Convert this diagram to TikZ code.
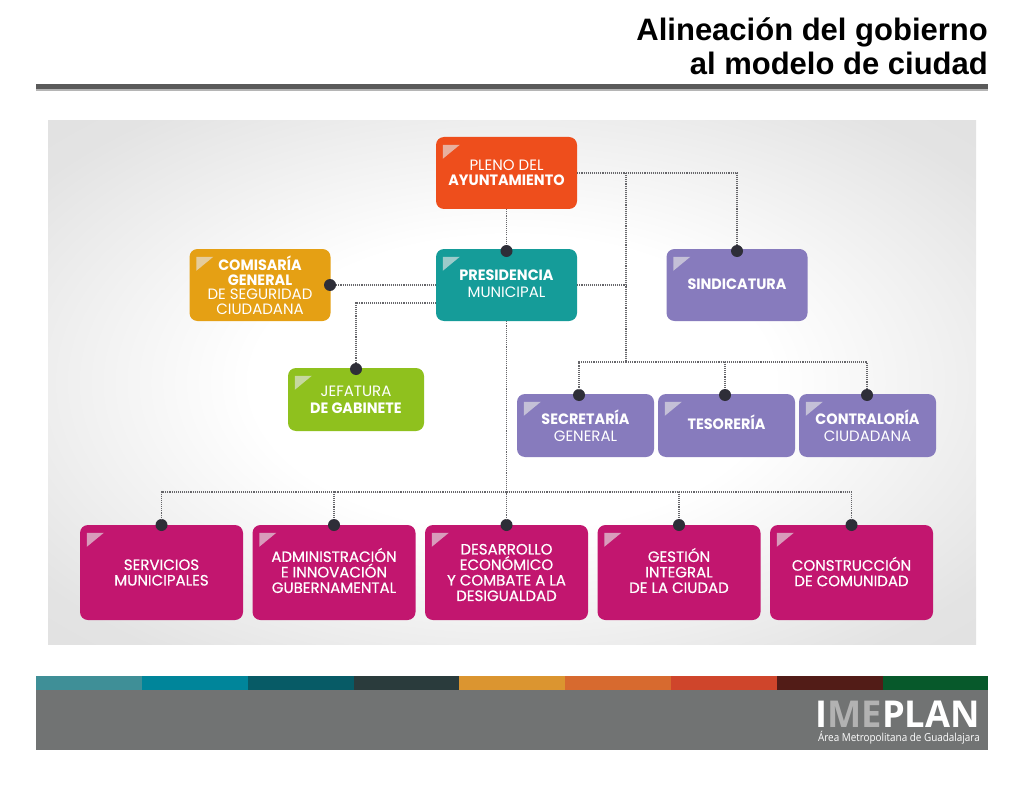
\documentclass[tikz,border=0pt]{standalone}
\usepackage{fontspec}
\setmainfont{Liberation Sans}
\newfontfamily\boxfont[BoldFeatures={FakeStretch=0.96}]{Poppins}
\newfontfamily\lowfont[FakeBold=0.5]{Poppins}
\newfontfamily\logofont[FakeStretch=0.98]{Open Sans}
\newfontfamily\logosubfont[FakeStretch=0.9]{Open Sans}
\definecolor{imRule}{HTML}{5A5A5A}
\definecolor{imBand}{HTML}{717373}
\definecolor{imOrange}{HTML}{EE4E1C}
\definecolor{imTeal}{HTML}{159C99}
\definecolor{imAmber}{HTML}{E5A014}
\definecolor{imLilac}{HTML}{877BBD}
\definecolor{imGreen}{HTML}{8FC11E}
\definecolor{imPink}{HTML}{C2166F}
\definecolor{imDot}{HTML}{2E2E38}
\definecolor{imLine}{HTML}{66666A}
\usetikzlibrary{calc,positioning}
\pgfdeclareradialshading{panelglow}{\pgfpointorigin}{color(0bp)=(white); color(14bp)=(white); color(32bp)=(black!11); color(50bp)=(black!13)}
\newcommand{\liftup}[1]{\rule[-#1pt]{0pt}{0pt}}

\begin{document}
\begin{tikzpicture}[x=1pt,y=-1pt,
  orgbox/.style={rounded corners=8pt, text=white, inner sep=0pt, align=center, font=\boxfont\fontsize{15}{15.5}\selectfont},
  topbox/.style={orgbox, minimum width=141pt, minimum height=72pt},
  jefbox/.style={orgbox, minimum width=136pt, minimum height=63pt},
  secbox/.style={orgbox, minimum width=137pt, minimum height=63pt},
  lowbox/.style={orgbox, fill=imPink, minimum width=163pt, minimum height=95pt, font=\lowfont\fontsize{15}{15.5}\selectfont},
  dot/.style={circle, fill=imDot, inner sep=0pt, minimum size=12pt},
  link/.style={densely dotted, line width=1.1pt, color=imLine},
  stripe/.style={minimum width=105.8pt, minimum height=14pt, inner sep=0pt, anchor=west}
]
  \useasboundingbox (0,0) rectangle (1024,786);

  \node[anchor=north east, align=right, font=\bfseries\fontsize{31}{34}\selectfont, inner sep=0pt] (title) at (988,18) {Alineación del gobierno\\al modelo de ciudad};
  \fill[color=imRule!45] (36,87) rectangle (988,91);
  \fill[color=imRule] (36,84) rectangle (988,89);

  \shade[shading=panelglow] (48,121) rectangle (976,644);

  \node[topbox, fill=imOrange] (pleno) at (506.5,173) {PLENO DEL\\\textbf{AYUNTAMIENTO}};
  \node[topbox, fill=imTeal] (presidencia) at (506.5,285) {\textbf{PRESIDENCIA}\\[1.5pt]MUNICIPAL\liftup{2}};
  \node[topbox, fill=imAmber] (comisaria) at (260,285) {\textbf{COMISARÍA}\\[-1pt]\textbf{GENERAL}\\[-1pt]DE SEGURIDAD\\[-1pt]CIUDADANA};
  \node[topbox, fill=imLilac] (sindicatura) at (737,285) {\textbf{SINDICATURA}\liftup{2}};
  \node[jefbox, fill=imGreen] (jefatura) at (356,399.5) {JEFATURA\\[1.5pt]\textbf{DE GABINETE}};
  \node[secbox, fill=imLilac] (secretaria) at (585.5,425.5) {\textbf{SECRETARÍA}\\[1.5pt]GENERAL};
  \node[secbox, fill=imLilac] (tesoreria) at (726.5,425.5) {\textbf{TESORERÍA}\liftup{6}};
  \node[secbox, fill=imLilac] (contraloria) at (867.5,425.5) {\textbf{CONTRALORÍA}\\[1.5pt]CIUDADANA};
  \node[lowbox] (servicios) at (161.5,572.5) {SERVICIOS\\MUNICIPALES};
  \node[lowbox] (administracion) at (334,572.5) {ADMINISTRACIÓN\\E INNOVACIÓN\\GUBERNAMENTAL\liftup{4}};
  \node[lowbox] (desarrollo) at (506.5,572.5) {DESARROLLO\\ECONÓMICO\\Y COMBATE A LA\\DESIGUALDAD};
  \node[lowbox] (gestion) at (679,572.5) {GESTIÓN\\INTEGRAL\\DE LA CIUDAD\liftup{4}};
  \node[lowbox] (construccion) at (851.5,572.5) {CONSTRUCCIÓN\\DE COMUNIDAD\liftup{2}};

  \foreach \boxname in {pleno,presidencia,comisaria,sindicatura,jefatura,secretaria,tesoreria,contraloria,servicios,administracion,desarrollo,gestion,construccion}
    \fill[black!10, opacity=.65] ($(\boxname.north west)+(7,8)$) -- +(17,0) -- +(0,14) -- cycle;

  \node[dot] (dotpres) at (506.5,251) {};
  \node[dot] (dotcom) at (330,285) {};
  \node[dot] (dotjef) at (356,369) {};
  \node[dot] (dotsin) at (737,251) {};
  \node[dot] (dotsec) at (579,395) {};
  \node[dot] (dottes) at (725,395) {};
  \node[dot] (dotcon) at (867,395) {};
  \node[dot] (dotser) at (161.5,525) {};
  \node[dot] (dotadm) at (334,525) {};
  \node[dot] (dotdes) at (506.5,525) {};
  \node[dot] (dotges) at (679,525) {};
  \node[dot] (dotcons) at (851.5,525) {};

  \coordinate (jefout) at (436,303);
  \coordinate (rowtop) at (626,362);
  \coordinate (rowlow) at (506.5,492);
  \coordinate (trunk) at (626,173);

  \draw[link] (pleno) -- (dotpres);
  \draw[link] (pleno.east) -| (dotsin);
  \draw[link] (trunk) -- (rowtop);
  \draw[link] (presidencia.east) -- (presidencia.east -| trunk);
  \draw[link] (dotcom) -- (presidencia.west);
  \draw[link] (jefout) -| (dotjef);
  \draw[link] (rowtop) -| (dotsec);
  \draw[link] (rowtop) -| (dottes);
  \draw[link] (rowtop) -| (dotcon);
  \draw[link] (presidencia) -- (dotdes);
  \draw[link] (rowlow) -| (dotser);
  \draw[link] (rowlow) -| (dotadm);
  \draw[link] (rowlow) -| (dotges);
  \draw[link] (rowlow) -| (dotcons);

  \fill[color=imBand] (36,690) rectangle (988,750);
  \foreach \stripecolor [count=\i from 0] in {3F8F97,00859A,075B66,2A3B3C,DB9530,D76A2F,CF452B,521C17,07592B} {
    \definecolor{stripefill}{HTML}{\stripecolor}
    \node[stripe, fill=stripefill] (stripe\i) at (36+105.8*\i,683) {};
  }

  \node[anchor=south east, inner sep=0pt, text=white, font=\logofont\bfseries\fontsize{37}{37}\selectfont] (logo) at (980,728) {I\textcolor{black!30}{ME}PLAN};
  \node[anchor=north east, inner sep=0pt, text=white, font=\logosubfont\fontsize{11}{12}\selectfont] (logosub) at (980,731) {Área Metropolitana de Guadalajara};
\end{tikzpicture}
\end{document}
